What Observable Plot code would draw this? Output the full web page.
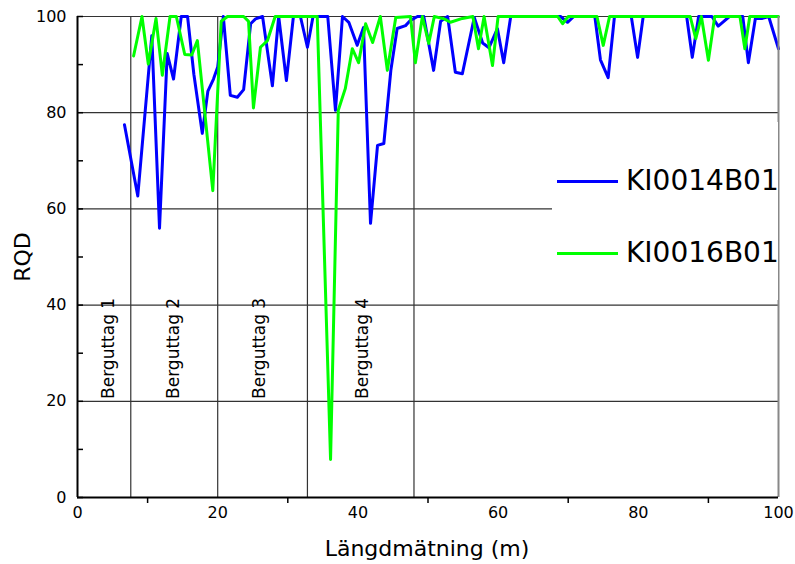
<!DOCTYPE html>
<html>
<head>
<meta charset="utf-8">
<script src="https://cdn.jsdelivr.net/npm/d3@7"></script>
<script src="https://cdn.jsdelivr.net/npm/@observablehq/plot@0.6"></script>
<style>
  body { margin: 0; background: #fff; font-family: "DejaVu Sans", sans-serif; }
  #wrap { position: relative; width: 795px; height: 564px; overflow: hidden; background: #fff; }
  #legend { position: absolute; left: 552px; top: 122px; width: 226px; height: 178px; background: #fff; }
  .row { position: absolute; left: 5px; display: flex; align-items: center; height: 40px; }
  .swatch { width: 61px; height: 3px; margin-right: 8px; }
  .lab { font-size: 28px; line-height: 40px; color: #000; white-space: nowrap; }
  #xtitle { position: absolute; left: 277px; width: 300px; top: 535px; text-align: center; font-size: 22px; line-height: 28px; white-space: nowrap; }
  #ytitle { position: absolute; left: 22px; top: 257px; transform: translate(-50%, -50%) rotate(-90deg); font-size: 22px; white-space: nowrap; }
</style>
</head>
<body>
<div id="wrap"></div>
<script>
// ---- data ----
const seriesNames = ["KI0014B01", "KI0016B01"];
const seriesColors = ["#0000ff", "#00ff00"];

const ki14Depth = [6.7, 8.6, 10.6, 11.7, 12.8, 13.7, 14.8, 15.7, 16.6, 17.8, 18.6, 19.4, 20.0, 20.8, 21.8, 22.8, 23.7, 24.7, 25.4, 26.4, 27.8, 28.7, 29.8, 30.8, 31.8, 32.8, 33.6, 34.6, 35.7, 36.8, 37.8, 38.7, 39.9, 40.8, 41.8, 42.8, 43.7, 44.7, 45.6, 46.8, 47.5, 48.5, 49.4, 50.8, 51.8, 52.8, 53.9, 54.9, 56.6, 57.8, 58.7, 59.9, 60.8, 61.8, 68.9, 69.9, 70.8, 73.8, 74.6, 75.7, 76.6, 79.0, 79.9, 80.7, 86.9, 87.7, 88.6, 90.5, 91.4, 92.2, 93.0, 94.9, 95.7, 96.7, 97.7, 98.6, 100];
const ki14RQD   = [77.5, 62.7, 96, 56, 92.3, 87, 100, 100, 88, 75.7, 84.5, 87, 89.5, 100, 83.6, 83.2, 84.8, 98.5, 99.5, 100, 85.6, 100, 86.7, 100, 100, 93.6, 100, 100, 100, 80.5, 100, 98.8, 94, 97.7, 57, 73.2, 73.6, 88.8, 97.5, 98.1, 99.2, 100, 100, 88.8, 99, 100, 88.4, 88.1, 99.8, 94.5, 93.5, 97.5, 90.4, 100, 100, 98.8, 100, 100, 91, 87.3, 100, 100, 91.5, 100, 100, 91.5, 100, 100, 98, 99, 100, 100, 90.4, 99.6, 99.6, 100, 93.3];

const ki16Depth = [8.0, 9.2, 10.1, 11.2, 12.1, 13.2, 14.1, 15.3, 16.3, 17.1, 19.3, 20.5, 21.4, 23.7, 24.4, 25.1, 26.1, 27.1, 28.2, 34.2, 36.1, 37.2, 38.2, 39.2, 40.1, 41.1, 42.1, 43.2, 44.2, 45.4, 47.5, 48.2, 49.2, 50.1, 50.9, 52.3, 53.2, 54.9, 56.4, 57.2, 58.0, 59.2, 60.0, 68.5, 69.2, 70.0, 74.1, 75.0, 75.9, 87.4, 88.2, 89.0, 90.0, 90.9, 94.5, 95.2, 95.9, 100];
const ki16RQD   = [91.8, 100, 90.1, 99.6, 87.8, 100, 100, 92.1, 92, 95, 63.8, 99, 100, 100, 99, 81, 93.6, 95, 100, 100, 7.9, 80.5, 85, 93.3, 90.4, 98.5, 94.6, 100, 88.8, 99.8, 100, 90.4, 100, 94.4, 100, 99.5, 98.8, 99.6, 100, 93.3, 100, 89.8, 100, 100, 98.5, 100, 100, 94, 100, 100, 95.4, 100, 90.9, 100, 100, 93.3, 100, 100];

const boundaryDepth = [7.6, 20, 32.8, 48];
const bergNames = ["Berguttag 1", "Berguttag 2", "Berguttag 3", "Berguttag 4"];
const bergLabelDepth = [4.4, 13.7, 26, 40.7];
const bergLabelRQD = [31, 31, 31, 31];

const gridRQD = [20, 40, 60, 80, 100];
const yTickAll = [0, 10, 20, 30, 40, 50, 60, 70, 80, 90, 100];
const yTickLabels = [0, 20, 40, 60, 80, 100];
const xTickLabels = [0, 20, 40, 60, 80, 100];
const xTickMinor = [10, 30, 50, 70, 90];
const xTitle = "Längdmätning (m)";
const yTitle = "RQD";

// ---- build ----
const ki14 = ki14Depth.map((d, i) => ({depth: d, rqd: ki14RQD[i]}));
const ki16 = ki16Depth.map((d, i) => ({depth: d, rqd: ki16RQD[i]}));
const berg = bergNames.map((n, i) => ({name: n, depth: bergLabelDepth[i], rqd: bergLabelRQD[i]}));

const plot = Plot.plot({
  width: 795,
  height: 564,
  marginLeft: 77,
  marginRight: 17,
  marginTop: 16,
  marginBottom: 67,
  x: {domain: [0, 100]},
  y: {domain: [0, 100]},
  style: {fontFamily: "DejaVu Sans", fontSize: "16px", color: "#000", background: "#fff"},
  marks: [
    Plot.ruleY(gridRQD, {stroke: "#333", strokeWidth: 1.2}),
    Plot.ruleX(boundaryDepth, {stroke: "#333", strokeWidth: 1.2}),
    Plot.text(berg, {x: "depth", y: "rqd", text: "name", rotate: -90, fontSize: 17, fill: "#000"}),
    Plot.line(ki14, {x: "depth", y: "rqd", stroke: seriesColors[0], strokeWidth: 3}),
    Plot.line(ki16, {x: "depth", y: "rqd", stroke: seriesColors[1], strokeWidth: 3}),
    Plot.ruleX([100], {stroke: "#888", strokeWidth: 2}),
    Plot.ruleX([0], {stroke: "#000", strokeWidth: 2}),
    Plot.ruleY([0], {stroke: "#000", strokeWidth: 2}),
    Plot.axisY(yTickLabels, {tickSize: 0, tickPadding: 11, label: null, fontSize: 16}),
    Plot.axisY(yTickAll, {tickSize: 6, dx: 6, text: null, label: null, strokeWidth: 1.5}),
    Plot.axisX(xTickLabels, {tickSize: 0, tickPadding: 9, label: null, fontSize: 16}),
    Plot.axisX(xTickMinor, {tickSize: 6, text: null, label: null, strokeWidth: 1.5})
  ]
});

const wrap = document.getElementById("wrap");
wrap.appendChild(plot);

// legend
const legend = document.createElement("div");
legend.id = "legend";
const rowTops = [39, 111];
seriesNames.forEach((name, i) => {
  const row = document.createElement("div");
  row.className = "row";
  row.style.top = rowTops[i] + "px";
  const sw = document.createElement("div");
  sw.className = "swatch";
  sw.style.background = seriesColors[i];
  const lab = document.createElement("div");
  lab.className = "lab";
  lab.textContent = name;
  row.appendChild(sw);
  row.appendChild(lab);
  legend.appendChild(row);
});
wrap.appendChild(legend);

const xt = document.createElement("div");
xt.id = "xtitle";
xt.textContent = xTitle;
wrap.appendChild(xt);

const yt = document.createElement("div");
yt.id = "ytitle";
yt.textContent = yTitle;
wrap.appendChild(yt);
</script>
</body>
</html>
